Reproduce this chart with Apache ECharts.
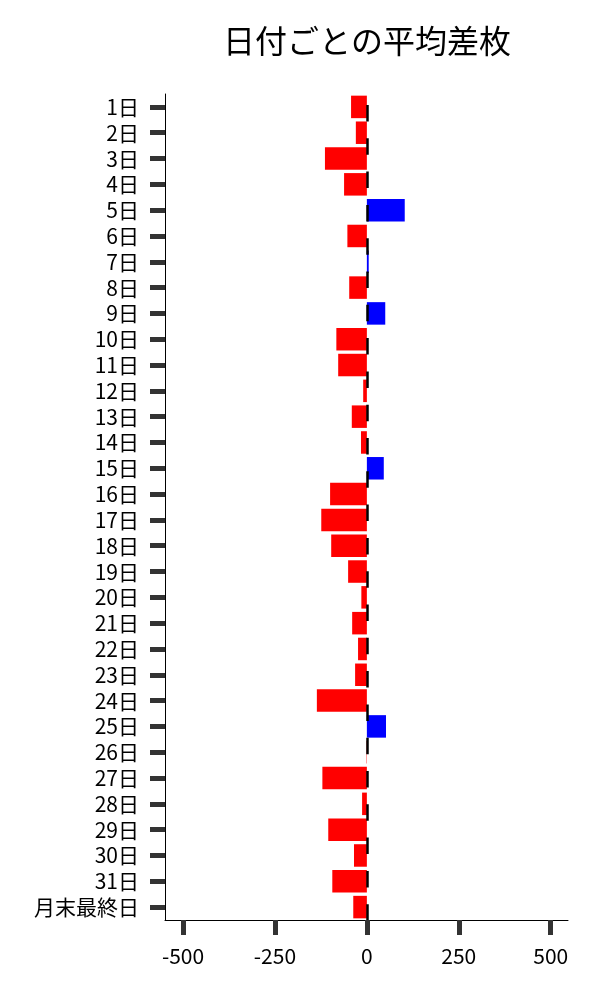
<!DOCTYPE html>
<html>
<head>
<meta charset="utf-8">
<script src="https://cdn.jsdelivr.net/npm/echarts@6/dist/echarts.min.js"></script>
<style>html,body{margin:0;padding:0;background:#fff}#c{width:600px;height:1000px}</style>
</head>
<body>
<div id="c"></div>
<script>
const titleText = '日付ごとの平均差枚';
const categories = ['1日','2日','3日','4日','5日','6日','7日','8日','9日','10日','11日','12日','13日','14日','15日','16日','17日','18日','19日','20日','21日','22日','23日','24日','25日','26日','27日','28日','29日','30日','31日','月末最終日'];
const values = [-43,-30,-114,-62,103,-53,5,-48,50,-83,-78,-10,-41,-16,46,-100,-124,-97,-51,-15,-40,-24,-32,-136,52,-1,-121,-13,-105,-35,-94,-37];
const xTicks = [-500,-250,0,250,500];

const FONT = '"Noto Sans CJK JP", "Noto Sans", sans-serif';
const chart = echarts.init(document.getElementById('c'), null, {renderer:'canvas'});
chart.setOption({
  backgroundColor:'#fff',
  animation:false,
  title:{text:titleText,left:218,top:20,textStyle:{fontFamily:FONT,fontSize:32,fontWeight:'normal',color:'#000'}},
  grid:{left:165,right:32,top:94,bottom:80},
  xAxis:{
    type:'value',min:-549,max:547,
    splitLine:{show:false},
    axisLine:{show:true,lineStyle:{color:'#000',width:1}},
    axisTick:{show:true,length:15,customValues:xTicks,lineStyle:{color:'#333',width:5}},
    axisLabel:{customValues:xTicks,margin:26,fontFamily:FONT,fontSize:21,color:'#000'}
  },
  yAxis:{
    type:'category',data:categories,inverse:true,
    axisLine:{show:true,onZero:false,lineStyle:{color:'#000',width:1}},
    axisTick:{show:true,alignWithLabel:true,length:15,lineStyle:{color:'#333',width:5}},
    axisLabel:{margin:26,fontFamily:FONT,fontSize:21,color:'#000',interval:0}
  },
  series:[{
    type:'bar',data:values,barWidth:22.5,
    itemStyle:{color:p=>p.value>=0?'#0000ff':'#ff0000'},
    markLine:{silent:true,symbol:'none',label:{show:false},
      lineStyle:{color:'#000',width:2.5,type:[16.5,16.8],dashOffset:22.3},
      data:[{xAxis:0}]}
  }]
});
</script>
</body>
</html>
